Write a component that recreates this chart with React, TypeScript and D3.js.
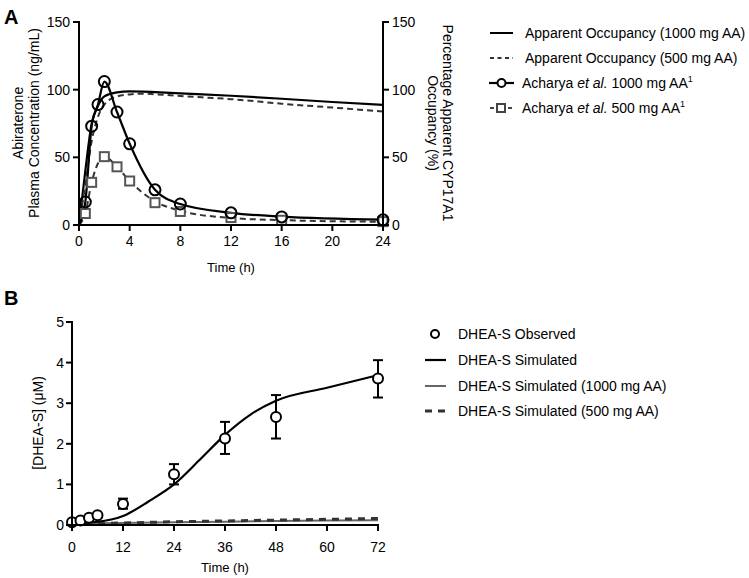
import React from "react";
import * as d3 from "d3";

// Panel A data
const obs1000T = [0.5, 1, 1.5, 2, 3, 4, 6, 8, 12, 16, 24];
const obs1000C = [17, 73, 89, 106, 83.5, 60, 26, 15.5, 9, 6, 3.8];
const obs500T = [0.5, 1, 2, 3, 4, 6, 8, 12, 16, 24];
const obs500C = [8.5, 31.5, 50.5, 43, 32.5, 16.5, 10, 5.5, 3.5, 2.5];
const pk1000T = [0, 0.5, 1, 1.5, 2, 3, 4, 6, 8, 12, 16, 24];
const pk1000C = [0, 17, 73, 89, 106, 83.5, 60, 26, 15.5, 9, 6.2, 4];
const pk500T = [0, 0.5, 1, 2, 3, 4, 6, 8, 12, 16, 24];
const pk500C = [0, 8.5, 31.5, 50.5, 43, 32.5, 17.5, 10.5, 5.2, 3.6, 2.4];
const occT = [0, 0.5, 1, 1.5, 2, 3, 4, 5, 6, 8, 12, 16, 20, 24];
const occ1000 = [0, 40, 75, 88, 95, 98, 98.7, 98.6, 98.2, 97.3, 95.5, 93.3, 90.9, 88.8];
const occ500 = [0, 30, 62, 80, 89, 95, 96.5, 97, 96.6, 95.3, 93, 89.6, 86.8, 83.9];
const xTicksA = [0, 4, 8, 12, 16, 20, 24];
const yTicksA = [0, 50, 100, 150];

// Panel B data
const dheaT = [0, 2, 4, 6, 12, 24, 36, 48, 72];
const dheaObs = [0.07, 0.11, 0.18, 0.24, 0.52, 1.25, 2.13, 2.66, 3.61];
const dheaLo = [null, null, null, null, 0.4, 1.0, 1.75, 2.13, 3.14];
const dheaHi = [null, null, null, null, 0.65, 1.5, 2.54, 3.2, 4.06];
const simT = [0, 6, 12, 18, 24, 30, 36, 42, 48, 60, 72];
const simAll = [0.05, 0.08, 0.22, 0.58, 1.0, 1.6, 2.22, 2.72, 3.06, 3.38, 3.69];
const sim1000T = [0, 12, 24, 36, 48, 60, 72];
const sim1000 = [0.04, 0.05, 0.07, 0.08, 0.1, 0.11, 0.12];
const sim500 = [0.03, 0.05, 0.08, 0.1, 0.12, 0.14, 0.16];
const xTicksB = [0, 12, 24, 36, 48, 60, 72];
const yTicksB = [0, 1, 2, 3, 4, 5];

const FONT = "Liberation Sans, Arial, Helvetica, sans-serif";

export default function App() {
  const xA = d3.scaleLinear().domain([0, 24]).range([79, 383]);
  const yA = d3.scaleLinear().domain([0, 150]).range([225, 22]);
  const xB = d3.scaleLinear().domain([0, 72]).range([72, 378]);
  const yB = d3.scaleLinear().domain([0, 5]).range([525, 322]);

  const lineA = (ts: number[], vs: number[], curve = d3.curveLinear) =>
    d3.line<number>().x((_, i) => xA(ts[i])).y((v) => yA(v)).curve(curve)(vs) || "";
  const lineB = (ts: number[], vs: number[], curve = d3.curveLinear) =>
    d3.line<number>().x((_, i) => xB(ts[i])).y((v) => yB(v)).curve(curve)(vs) || "";

  const sqSize = 9;

  return (
    <svg width={749} height={578} fontFamily={FONT}
      style={{ position: "absolute", left: 0, top: 0, display: "block" }}>
      <rect width={749} height={578} fill="#fff" />
      <text x={4} y={24} fontSize={20} fontWeight="bold" fill="#000">A</text>
      <text x={4} y={305} fontSize={20} fontWeight="bold" fill="#000">B</text>

      {/* ===== Panel A ===== */}
      <path d={lineA(occT, occ1000, d3.curveMonotoneX)} fill="none" stroke="#000" strokeWidth={2.2} />
      <path d={lineA(occT, occ500, d3.curveMonotoneX)} fill="none" stroke="#333" strokeWidth={2} strokeDasharray="6,4" />
      <path d={lineA(pk500T, pk500C, d3.curveMonotoneX)} fill="none" stroke="#333" strokeWidth={2} strokeDasharray="6,4" />
      <path d={lineA(pk1000T, pk1000C, d3.curveMonotoneX)} fill="none" stroke="#000" strokeWidth={2.2} />
      {obs500T.map((t, i) => (
        <rect key={"s" + i} x={xA(t) - sqSize / 2} y={yA(obs500C[i]) - sqSize / 2} width={sqSize} height={sqSize}
          fill="#fff" stroke="#555" strokeWidth={2} />
      ))}
      {obs1000T.map((t, i) => (
        <circle key={"c" + i} cx={xA(t)} cy={yA(obs1000C[i])} r={5.5} fill="none" stroke="#000" strokeWidth={2} />
      ))}

      {/* axes A */}
      <line x1={79} x2={79} y1={21} y2={226} stroke="#000" strokeWidth={2} />
      <line x1={383} x2={383} y1={21} y2={231} stroke="#000" strokeWidth={2} />
      <line x1={78} x2={384} y1={225} y2={225} stroke="#000" strokeWidth={2} />
      {yTicksA.map((v) => (
        <g key={"ya" + v}>
          <line x1={73} x2={79} y1={yA(v)} y2={yA(v)} stroke="#000" strokeWidth={2} />
          <text x={70} y={yA(v)} dy="0.35em" textAnchor="end" fontSize={14} fill="#000">{v}</text>
          <line x1={383} x2={389} y1={yA(v)} y2={yA(v)} stroke="#000" strokeWidth={2} />
          <text x={392} y={yA(v)} dy="0.35em" textAnchor="start" fontSize={14} fill="#000">{v}</text>
        </g>
      ))}
      {xTicksA.map((v) => (
        <g key={"xa" + v}>
          <line x1={xA(v)} x2={xA(v)} y1={225} y2={231} stroke="#000" strokeWidth={2} />
          <text x={xA(v)} y={246} textAnchor="middle" fontSize={14} fill="#000">{v}</text>
        </g>
      ))}
      <text x={231} y={272} textAnchor="middle" fontSize={13} fill="#000">Time (h)</text>
      <text transform="translate(23,123) rotate(-90)" textAnchor="middle" fontSize={14} fill="#000">
        <tspan x={0} y={0}>Abiraterone</tspan>
        <tspan x={0} y={16}>Plasma Concentration (ng/mL)</tspan>
      </text>
      <text transform="translate(443,123) rotate(90)" textAnchor="middle" fontSize={14} fill="#000">
        <tspan x={0} y={0}>Percentage Apparent CYP17A1</tspan>
        <tspan x={0} y={15}>Occupancy (%)</tspan>
      </text>

      {/* legend A */}
      <g fontSize={14} fill="#000">
        <line x1={490} x2={513} y1={33} y2={33} stroke="#000" strokeWidth={2} />
        <text x={525} y={33} dy="0.35em">Apparent Occupancy (1000 mg AA)</text>
        <line x1={490} x2={513} y1={58} y2={58} stroke="#333" strokeWidth={2} strokeDasharray="4,3.5" />
        <text x={525} y={58} dy="0.35em">Apparent Occupancy (500 mg AA)</text>
        <line x1={489} x2={514} y1={83} y2={83} stroke="#000" strokeWidth={2.2} />
        <circle cx={501.5} cy={83} r={4} fill="#fff" stroke="#000" strokeWidth={2} />
        <text x={522} y={83} dy="0.35em">Acharya <tspan fontStyle="italic">et al.</tspan> 1000 mg AA<tspan dy={-6} fontSize={9}>1</tspan></text>
        <line x1={490} x2={514} y1={108} y2={108} stroke="#444" strokeWidth={2} strokeDasharray="4,5" />
        <rect x={497} y={104} width={8} height={8} fill="#fff" stroke="#444" strokeWidth={2} />
        <text x={522} y={108} dy="0.35em">Acharya <tspan fontStyle="italic">et al.</tspan> 500 mg AA<tspan dy={-6} fontSize={9}>1</tspan></text>
      </g>

      {/* ===== Panel B ===== */}
      <path d={lineB(sim1000T, sim1000)} fill="none" stroke="#666" strokeWidth={2} />
      <path d={lineB(sim1000T, sim500)} fill="none" stroke="#333" strokeWidth={3} strokeDasharray="7,6" />
      <path d={lineB(simT, simAll, d3.curveMonotoneX)} fill="none" stroke="#000" strokeWidth={2.2} />
      {dheaT.map((t, i) =>
        dheaLo[i] != null ? (
          <g key={"eb" + i} stroke="#000" strokeWidth={2}>
            <line x1={xB(t)} x2={xB(t)} y1={yB(dheaLo[i] as number)} y2={yB(dheaHi[i] as number)} />
            <line x1={xB(t) - 5} x2={xB(t) + 5} y1={yB(dheaLo[i] as number)} y2={yB(dheaLo[i] as number)} />
            <line x1={xB(t) - 5} x2={xB(t) + 5} y1={yB(dheaHi[i] as number)} y2={yB(dheaHi[i] as number)} />
          </g>
        ) : null
      )}
      {dheaT.map((t, i) => (
        <circle key={"d" + i} cx={xB(t)} cy={yB(dheaObs[i])} r={5} fill="#fff" stroke="#000" strokeWidth={2} />
      ))}
      <line x1={72} x2={72} y1={321} y2={526} stroke="#000" strokeWidth={2} />
      <line x1={71} x2={379} y1={525} y2={525} stroke="#000" strokeWidth={2} />
      {yTicksB.map((v) => (
        <g key={"yb" + v}>
          <line x1={66} x2={72} y1={yB(v)} y2={yB(v)} stroke="#000" strokeWidth={2} />
          <text x={64} y={yB(v)} dy="0.35em" textAnchor="end" fontSize={14} fill="#000">{v}</text>
        </g>
      ))}
      {xTicksB.map((v) => (
        <g key={"xb" + v}>
          <line x1={xB(v)} x2={xB(v)} y1={525} y2={531} stroke="#000" strokeWidth={2} />
          <text x={xB(v)} y={552} textAnchor="middle" fontSize={14} fill="#000">{v}</text>
        </g>
      ))}
      <text x={225} y={572} textAnchor="middle" fontSize={13} fill="#000">Time (h)</text>
      <text transform="translate(43,423) rotate(-90)" textAnchor="middle" fontSize={14} fill="#000">[DHEA-S] (μM)</text>

      {/* legend B */}
      <g fontSize={14} fill="#000">
        <circle cx={435} cy={334} r={4} fill="#fff" stroke="#000" strokeWidth={2} />
        <text x={458} y={334} dy="0.35em">DHEA-S Observed</text>
        <line x1={425} x2={446} y1={360} y2={360} stroke="#000" strokeWidth={2.2} />
        <text x={458} y={360} dy="0.35em">DHEA-S Simulated</text>
        <line x1={425} x2={446} y1={386} y2={386} stroke="#666" strokeWidth={2} />
        <text x={458} y={386} dy="0.35em">DHEA-S Simulated (1000 mg AA)</text>
        <line x1={425} x2={446} y1={411} y2={411} stroke="#333" strokeWidth={3} strokeDasharray="7,6" />
        <text x={458} y={411} dy="0.35em">DHEA-S Simulated (500 mg AA)</text>
      </g>
    </svg>
  );
}
